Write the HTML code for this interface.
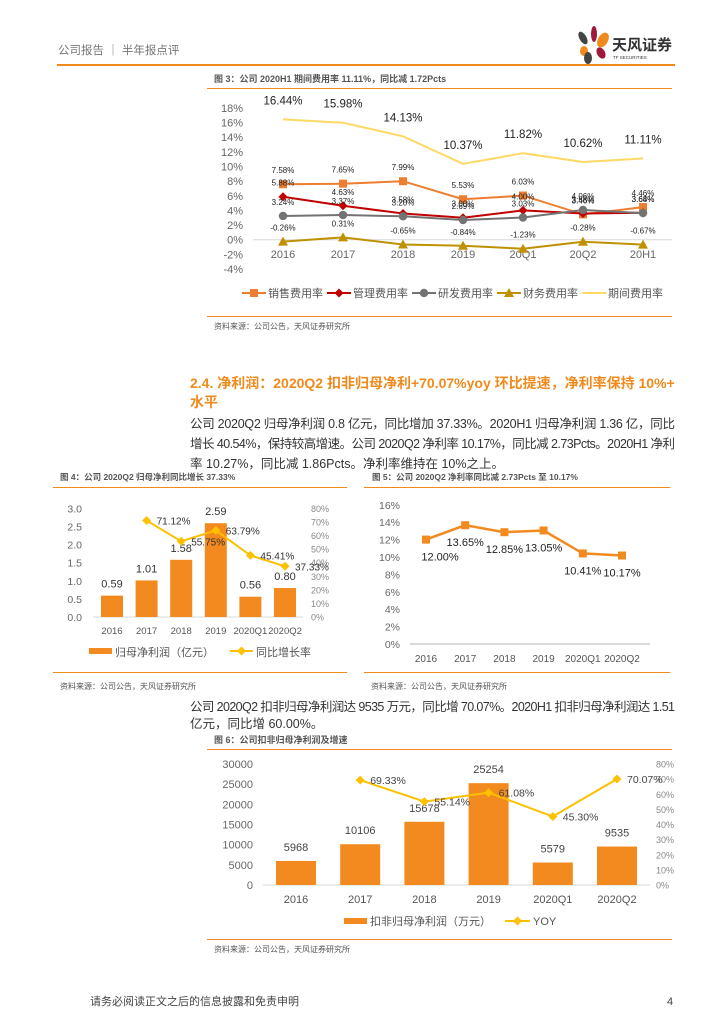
<!DOCTYPE html>
<html><head><meta charset="utf-8">
<style>
body{margin:0;background:#fff;}
#wrap{position:relative;width:724px;height:1024px;overflow:hidden;background:#fff;font-family:"Liberation Sans","Noto Sans CJK SC",sans-serif;}
svg text{font-family:"Liberation Sans","Noto Sans CJK SC",sans-serif;}
</style></head>
<body>
<div id="wrap">
<svg id="page" width="724" height="1024" viewBox="0 0 724 1024" xmlns="http://www.w3.org/2000/svg">
<text x="58" y="54" font-size="11.5" fill="#777">公司报告 ｜ 半年报点评</text>
<g>
<ellipse cx="583" cy="38" rx="3.5" ry="7" fill="#444" transform="rotate(-30 583 38)"/>
<ellipse cx="594" cy="34" rx="3" ry="8" fill="#a0183a"/>
<ellipse cx="603" cy="40" rx="5" ry="8" fill="#f08a1c" transform="rotate(30 603 40)"/>
<ellipse cx="584" cy="51" rx="4" ry="5" fill="#f08a1c"/>
<ellipse cx="601" cy="53" rx="4" ry="6" fill="#a0183a" transform="rotate(-30 601 53)"/>
<ellipse cx="588" cy="58" rx="4" ry="6" fill="#444"/>
<text x="612" y="50" font-size="15" font-weight="bold" fill="#333">天风证券</text>
<text x="613" y="59" font-size="4.5" fill="#333">TF SECURITIES</text>
</g>
<rect x="57" y="64" width="618" height="2" fill="#f08a1c"/>

<text x="214" y="82" font-size="9" font-weight="bold" fill="#555">图 3：公司 2020H1 期间费用率 11.11%，同比减 1.72Pcts</text>
<rect x="207" y="88" width="465" height="1" fill="#f08a1c"/>
<g id="c3"></g>
<rect x="207" y="316" width="465" height="1" fill="#f08a1c"/>
<text x="214" y="329" font-size="8" fill="#555">资料来源：公司公告，天风证券研究所</text>

<text x="190" y="388" font-size="14" font-weight="bold" fill="#f08a1c">2.4. 净利润：2020Q2 扣非归母净利+70.07%yoy 环比提速，净利率保持 10%+</text>
<text x="190" y="407" font-size="14" font-weight="bold" fill="#f08a1c">水平</text>
<g font-size="12.5" fill="#333">
<text x="190" y="428" textLength="485">公司 2020Q2 归母净利润 0.8 亿元，同比增加 37.33%。2020H1 归母净利润 1.36 亿，同比</text>
<text x="190" y="448" textLength="485">增长 40.54%，保持较高增速。公司 2020Q2 净利率 10.17%，同比减 2.73Pcts。2020H1 净利</text>
<text x="190" y="468">率 10.27%，同比减 1.86Pcts。净利率维持在 10%之上。</text>
</g>

<text x="60" y="480" font-size="8.5" font-weight="bold" fill="#555">图 4：公司 2020Q2 归母净利同比增长 37.33%</text>
<rect x="53" y="487" width="294" height="1" fill="#f08a1c"/>
<text x="372" y="480" font-size="8.5" font-weight="bold" fill="#555">图 5：公司 2020Q2 净利率同比减 2.73Pcts 至 10.17%</text>
<rect x="364" y="487" width="306" height="1" fill="#f08a1c"/>
<g id="c4"></g>
<g id="c5"></g>
<rect x="53" y="672" width="294" height="1" fill="#f08a1c"/>
<rect x="364" y="672" width="306" height="1" fill="#f08a1c"/>
<text x="60" y="689" font-size="8" fill="#555">资料来源：公司公告，天风证券研究所</text>
<text x="371" y="689" font-size="8" fill="#555">资料来源：公司公告，天风证券研究所</text>

<g font-size="12.5" fill="#333">
<text x="190" y="711" textLength="485">公司 2020Q2 扣非归母净利润达 9535 万元，同比增 70.07%。2020H1 扣非归母净利润达 1.51</text>
<text x="190" y="728">亿元，同比增 60.00%。</text>
</g>
<text x="214" y="743" font-size="9" font-weight="bold" fill="#555">图 6：公司扣非归母净利润及增速</text>
<rect x="207" y="749" width="465" height="1" fill="#f08a1c"/>
<g id="c6"></g>
<rect x="207" y="939" width="465" height="1" fill="#f08a1c"/>
<text x="214" y="952" font-size="8" fill="#555">资料来源：公司公告，天风证券研究所</text>

<text x="90" y="1005" font-size="11" fill="#444">请务必阅读正文之后的信息披露和免责申明</text>
<text x="667" y="1005" font-size="11" fill="#444">4</text>
</svg>
</div>
<script>
const c3Cats = ['2016','2017','2018','2019','20Q1','20Q2','20H1'];
const c3Sales = [7.58,7.65,7.99,5.53,6.03,3.46,4.46];
const c3Mgmt = [5.88,4.63,3.58,3.00,4.00,3.58,3.68];
const c3RD = [3.24,3.37,3.20,2.69,3.03,4.06,3.64];
const c3Fin = [-0.26,0.31,-0.65,-0.84,-1.23,-0.28,-0.67];
const c3Period = [16.44,15.98,14.13,10.37,11.82,10.62,11.11];
const c3Ticks = [18,16,14,12,10,8,6,4,2,0,-2,-4];
const c4Cats = ['2016','2017','2018','2019','2020Q1','2020Q2'];
const c4Profit = [0.59,1.01,1.58,2.59,0.56,0.80];
const c4Growth = [null,71.12,55.75,63.79,45.41,37.33];
const c4LeftTicks = [0,0.5,1.0,1.5,2.0,2.5,3.0];
const c4RightTicks = [0,10,20,30,40,50,60,70,80];
const c5Cats = ['2016','2017','2018','2019','2020Q1','2020Q2'];
const c5Margin = [12.00,13.65,12.85,13.05,10.41,10.17];
const c5Ticks = [0,2,4,6,8,10,12,14,16];
const c6Cats = ['2016','2017','2018','2019','2020Q1','2020Q2'];
const c6Profit = [5968,10106,15678,25254,5579,9535];
const c6Yoy = [null,69.33,55.14,61.08,45.30,70.07];
const c6LeftTicks = [0,5000,10000,15000,20000,25000,30000];
const c6RightTicks = [0,10,20,30,40,50,60,70,80];

const NS='http://www.w3.org/2000/svg';
function mk(parent,tag,attrs,txt){const e=document.createElementNS(NS,tag);for(const k in attrs)e.setAttribute(k,attrs[k]);if(txt!==undefined)e.textContent=txt;parent.appendChild(e);return e;}
function poly(pts){return pts.map(p=>p[0].toFixed(1)+','+p[1].toFixed(1)).join(' ');}
function marker(g,type,x,y,color){
  let e;
  if(type==='square') e=mk(g,'rect',{x:x-4,y:y-4,width:8,height:8,fill:color});
  else if(type==='diamond') e=mk(g,'polygon',{points:poly([[x,y-4.5],[x+4.5,y],[x,y+4.5],[x-4.5,y]]),fill:color});
  else if(type==='circle') e=mk(g,'circle',{cx:x,cy:y,r:4.2,fill:color});
  else if(type==='triangle') e=mk(g,'polygon',{points:poly([[x,y-5],[x+5,y+4],[x-5,y+4]]),fill:color});
  return e;
}

(function(){
  const g=document.getElementById('c3');
  const y=v=>239.7-v*7.32;
  const x=i=>283+i*60;
  c3Ticks.forEach(t=>{const e=mk(g,'text',{x:243,y:y(t)+4,'font-size':11,fill:'#666','text-anchor':'end'},t+'%');
    
    });
  const zl=mk(g,'line',{x1:253,x2:672,y1:y(0),y2:y(0),stroke:'#d9d9d9','stroke-width':1});
  
  
  c3Cats.forEach((c,i)=>{const e=mk(g,'text',{x:x(i),y:258,'font-size':11,fill:'#666','text-anchor':'middle'},c);
    
    });
  const series=[
    {d:c3Period,c:'#FFD966',m:null,name:'period',fs:11.5,off:-15,w:2},
    {d:c3Sales,c:'#ED7D31',m:'square',name:'sales',fs:8,off:-11,w:2},
    {d:c3Mgmt,c:'#C00000',m:'diamond',name:'mgmt',fs:8,off:-11,w:2},
    {d:c3RD,c:'#737373',m:'circle',name:'rd',fs:8,off:-11,w:2},
    {d:c3Fin,c:'#BF9000',m:'triangle',name:'finance',fs:8,off:-11,w:2}
  ];
  series.forEach(s=>{
    const pts=s.d.map((v,i)=>[x(i),y(v)]);
    const l=mk(g,'polyline',{points:poly(pts),fill:'none',stroke:s.c,'stroke-width':s.w});
    
    
    s.d.forEach((v,i)=>{
      if(s.m){const m=marker(g,s.m,x(i),y(v),s.c);
        
        }
      const t=mk(g,'text',{x:x(i),y:y(v)+s.off,'font-size':s.fs,fill:'#222','text-anchor':'middle'},v.toFixed(2)+'%');
      
      
    });
  });
  const leg=[['销售费用率','#ED7D31','square',242],['管理费用率','#C00000','diamond',327],['研发费用率','#737373','circle',412],['财务费用率','#BF9000','triangle',497],['期间费用率','#FFD966',null,582]];
  leg.forEach(l=>{
    const lg=mk(g,'g',{});
    
    
    mk(lg,'line',{x1:l[3],x2:l[3]+24,y1:293,y2:293,stroke:l[1],'stroke-width':2});
    if(l[2])marker(lg,l[2],l[3]+12,293,l[1]);
    mk(lg,'text',{x:l[3]+26,y:297,'font-size':11,fill:'#555'},l[0]);
  });
})();

(function(){
  const g=document.getElementById('c4');
  const y=v=>617-v*36.2;
  const yr=v=>617-v*1.3575;
  const x=i=>112+i*34.6;
  c4LeftTicks.forEach(t=>{const e=mk(g,'text',{x:82,y:y(t)+4,'font-size':10.5,fill:'#666','text-anchor':'end'},t.toFixed(1));
    
    });
  c4RightTicks.forEach(t=>{const e=mk(g,'text',{x:311,y:yr(t)+3.5,'font-size':9,fill:'#888'},t+'%');
    
    });
  const zl=mk(g,'line',{x1:93,x2:303,y1:617,y2:617,stroke:'#d9d9d9','stroke-width':1});
  
  
  c4Profit.forEach((v,i)=>{
    const b=mk(g,'rect',{x:x(i)-11,y:y(v),width:22,height:617-y(v),fill:'#F28A1F'});
    
    
    const t=mk(g,'text',{x:x(i),y:y(v)-8,'font-size':11,fill:'#333','text-anchor':'middle'},v.toFixed(2));
    
    
  });
  c4Cats.forEach((c,i)=>{const e=mk(g,'text',{x:x(i),y:634,'font-size':9.5,fill:'#555','text-anchor':'middle'},c);
    
    });
  const pts=[];c4Growth.forEach((v,i)=>{if(v!==null)pts.push([x(i),yr(v),v]);});
  const l=mk(g,'polyline',{points:poly(pts),fill:'none',stroke:'#FFC000','stroke-width':2});
  
  
  pts.forEach(p=>{const m=marker(g,'diamond',p[0],p[1],'#FFC000');
    
    
    const t=mk(g,'text',{x:p[0]+10,y:p[1]+4,'font-size':10,fill:'#333'},p[2].toFixed(2)+'%');
    
    });
  const l1=mk(g,'g',{});
  
  
  mk(l1,'rect',{x:89,y:648,width:23,height:6,fill:'#F28A1F'});
  mk(l1,'text',{x:115,y:656,'font-size':11,fill:'#555'},'归母净利润（亿元）');
  const l2=mk(g,'g',{});
  
  
  mk(l2,'line',{x1:230,x2:253,y1:651,y2:651,stroke:'#FFC000','stroke-width':2});
  marker(l2,'diamond',241.5,651,'#FFC000');
  mk(l2,'text',{x:256,y:656,'font-size':11,fill:'#555'},'同比增长率');
})();

(function(){
  const g=document.getElementById('c5');
  const y=v=>644-v*8.7;
  const x=i=>426+i*39.2;
  c5Ticks.forEach(t=>{const e=mk(g,'text',{x:400,y:y(t)+4,'font-size':10.5,fill:'#666','text-anchor':'end'},t+'%');
    
    });
  const zl=mk(g,'line',{x1:410,x2:650,y1:644,y2:644,stroke:'#d9d9d9','stroke-width':2});
  
  
  c5Cats.forEach((c,i)=>{const e=mk(g,'text',{x:x(i),y:662,'font-size':10,fill:'#555','text-anchor':'middle'},c);
    
    });
  const pts=c5Margin.map((v,i)=>[x(i),y(v)]);
  const l=mk(g,'polyline',{points:poly(pts),fill:'none',stroke:'#F28A1F','stroke-width':2.5});
  
  
  c5Margin.forEach((v,i)=>{
    const m=marker(g,'square',x(i),y(v),'#F28A1F');
    
    
    const t=mk(g,'text',{x:x(i)+(i===0?14:0),y:y(v)+21,'font-size':11,fill:'#222','text-anchor':'middle'},v.toFixed(2)+'%');
    
    
  });
})();

(function(){
  const g=document.getElementById('c6');
  const y=v=>885-v*0.004033;
  const yr=v=>885-v*1.5125;
  const x=i=>296+i*64.2;
  c6LeftTicks.forEach(t=>{const e=mk(g,'text',{x:253,y:y(t)+4,'font-size':11,fill:'#666','text-anchor':'end'},String(t));
    
    });
  c6RightTicks.forEach(t=>{const e=mk(g,'text',{x:656,y:yr(t)+3.5,'font-size':9,fill:'#888'},t+'%');
    
    });
  const zl=mk(g,'line',{x1:263,x2:650,y1:885,y2:885,stroke:'#d9d9d9','stroke-width':1});
  
  
  c6Profit.forEach((v,i)=>{
    const b=mk(g,'rect',{x:x(i)-20,y:y(v),width:40,height:885-y(v),fill:'#F28A1F'});
    
    
    const t=mk(g,'text',{x:x(i),y:y(v)-10,'font-size':11,fill:'#444','text-anchor':'middle'},String(v));
    
    
  });
  c6Cats.forEach((c,i)=>{const e=mk(g,'text',{x:x(i),y:903,'font-size':11,fill:'#555','text-anchor':'middle'},c);
    
    });
  const pts=[];c6Yoy.forEach((v,i)=>{if(v!==null)pts.push([x(i),yr(v),v]);});
  const l=mk(g,'polyline',{points:poly(pts),fill:'none',stroke:'#FFC000','stroke-width':2});
  
  
  pts.forEach(p=>{const m=marker(g,'diamond',p[0],p[1],'#FFC000');
    
    
    const t=mk(g,'text',{x:p[0]+10,y:p[1]+4,'font-size':10.5,fill:'#444'},p[2].toFixed(2)+'%');
    
    });
  const l1=mk(g,'g',{});
  
  
  mk(l1,'rect',{x:344,y:918,width:23,height:6,fill:'#F28A1F'});
  mk(l1,'text',{x:370,y:925,'font-size':11,fill:'#555'},'扣非归母净利润（万元）');
  const l2=mk(g,'g',{});
  
  
  mk(l2,'line',{x1:505,x2:530,y1:921,y2:921,stroke:'#FFC000','stroke-width':2});
  marker(l2,'diamond',517.5,921,'#FFC000');
  mk(l2,'text',{x:533,y:925,'font-size':11,fill:'#555'},'YOY');
})();
</script>
</body></html>
